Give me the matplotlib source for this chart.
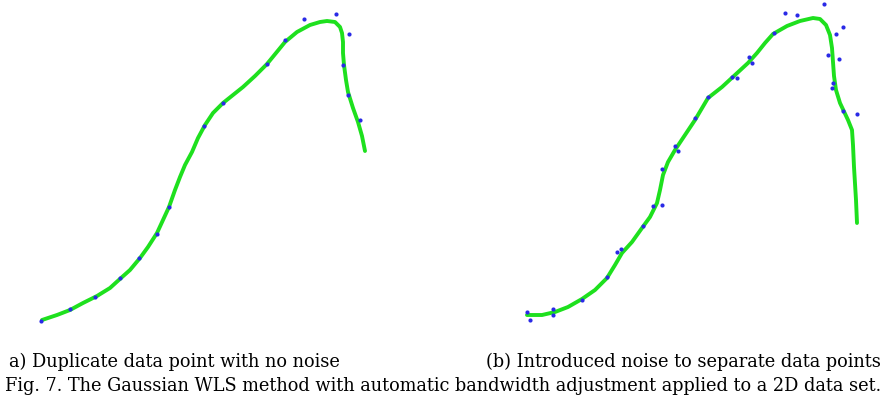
import numpy as np
import matplotlib
matplotlib.use("Agg")
import matplotlib.pyplot as plt

# Values, in picture pixel units (y grows downward)

# (a) no noise: fitted curve and data points
a_curve_x = [42, 57, 70, 83, 97, 110, 121, 130, 140, 148, 157, 163, 169, 175, 180,
             185, 192, 198, 205, 213, 223, 233, 243, 255, 267, 276, 285, 297, 310,
             320, 327, 335, 340, 342, 343, 343, 344, 346, 348, 353, 358, 362, 365]
a_curve_y = [320, 315, 310, 303, 296, 288, 278, 270, 258, 247, 233, 220, 207, 190, 177,
             165, 152, 138, 125, 113, 103, 95, 87, 76, 64, 53, 42, 32, 25,
             22, 21, 22, 27, 33, 42, 53, 65, 80, 92, 108, 122, 136, 151]
a_pts_x = [41, 70, 95, 120, 139, 157, 169, 204, 223, 267, 285, 304, 336, 349, 343, 348, 360]
a_pts_y = [321, 309, 297, 278, 258, 234, 207, 126, 103, 64, 40, 19, 14, 34, 65, 95, 120]

# (b) noise added to separate the points
b_curve_x = [527, 542, 555, 568, 582, 595, 607, 615, 622, 632, 642, 650, 657, 660, 663,
             668, 675, 685, 695, 708, 722, 735, 748, 757, 765, 773, 787, 800, 813, 820,
             826, 830, 832, 833, 834, 836, 840, 848, 852, 853, 854, 856, 857]
b_curve_y = [315, 315, 312, 307, 299, 290, 278, 265, 253, 242, 228, 217, 203, 190, 175,
             162, 150, 135, 120, 98, 87, 75, 63, 53, 43, 34, 26, 21, 18, 19,
             25, 35, 48, 62, 76, 90, 103, 120, 130, 145, 167, 200, 223]
b_pts_x = [527, 530, 553, 553, 582, 607, 617, 621, 643, 653, 662, 662, 675, 678, 695, 708,
           732, 737, 749, 752, 774, 785, 797, 824, 843, 836, 828, 839, 833, 832, 843, 857]
b_pts_y = [312, 320, 309, 315, 300, 277, 252, 249, 226, 206, 205, 169, 146, 151, 118, 97,
           77, 78, 57, 63, 33, 13, 15, 4, 27, 34, 55, 59, 83, 88, 111, 114]

sub_a = "a) Duplicate data point with no noise"
sub_b = "(b) Introduced noise to separate data points"
caption = "Fig. 7. The Gaussian WLS method with automatic bandwidth adjustment applied to a 2D data set."

W, H = 886, 404
PANEL_H = 330
GREEN = "#1ee01e"
BLUE = "#2a2ae6"

fig = plt.figure(figsize=(W / 100, H / 100), dpi=100)
fig.patch.set_facecolor("white")

# one invisible axes over the plot area; both panels share it
ax = fig.add_axes([0, (H - PANEL_H) / H, 1, PANEL_H / H])
for cx, cy, px, py in [(a_curve_x, a_curve_y, a_pts_x, a_pts_y),
                       (b_curve_x, b_curve_y, b_pts_x, b_pts_y)]:
    ax.plot(cx, cy, color=GREEN, lw=2.8, solid_capstyle="round",
            solid_joinstyle="round", zorder=2)
    ax.plot(px, py, "o", color=BLUE, ms=3.0, mec="none", zorder=3)
ax.set_xlim(0, W)
ax.set_ylim(PANEL_H, 0)
ax.axis("off")

font = dict(family="DejaVu Serif", fontsize=12.8, color="black")
fig.text(9 / W, 1 - 362 / H, sub_a, ha="left", va="center", **font)
fig.text(881 / W, 1 - 362 / H, sub_b, ha="right", va="center", **font)
fig.text(0.5, 1 - 386 / H, caption, ha="center", va="center", **font)

fig.savefig("out.png", dpi=100)
